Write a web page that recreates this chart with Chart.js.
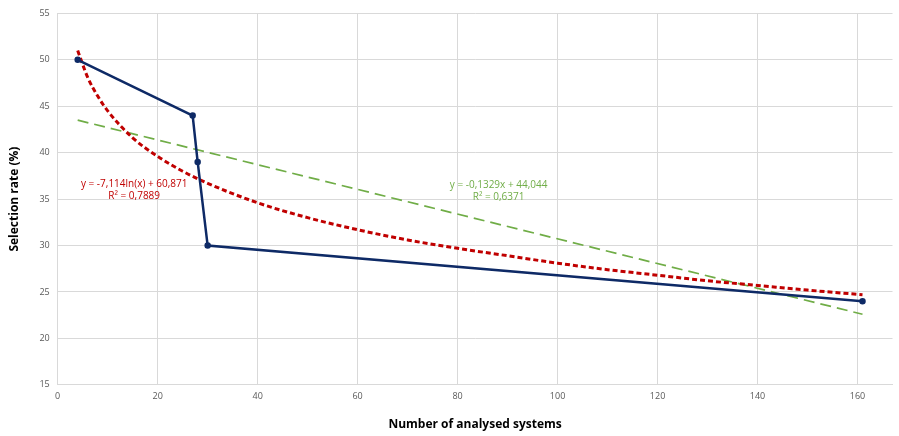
<!DOCTYPE html>
<html>
<head>
<meta charset="utf-8">
<script src="https://cdn.jsdelivr.net/npm/chart.js@4.4.1/dist/chart.umd.min.js"></script>
<style>
  html, body { margin:0; padding:0; background:#fff; }
  #wrap { width:899px; height:436px; }
</style>
</head>
<body>
<div id="wrap"><canvas id="c" width="899" height="436"></canvas></div>
<script>
  // --- Data ---
  const systemsX   = [4, 27, 28, 30, 161];
  const selRate    = [50, 44, 39, 30, 24];

  // log trendline, sampled from the plotted curve
  const logX   = [4, 6, 8, 10, 15, 20, 25, 30, 40, 50, 60, 70, 80, 90, 100, 110, 120, 130, 140, 150, 161];
  const logY   = [51.0, 48.1, 46.1, 44.5, 41.6, 39.6, 38.0, 36.7, 34.6, 33.0, 31.7, 30.6, 29.7, 28.9, 28.1, 27.4, 26.8, 26.2, 25.7, 25.2, 24.7];

  // linear trendline end points
  const linX   = [4, 161];
  const linY   = [43.5, 22.6];

  const logLabel = ['y = -7,114ln(x) + 60,871', 'R² = 0,7889'];
  const linLabel = ['y = -0,1329x + 44,044', 'R² = 0,6371'];

  const FONT = "'Open Sans', 'Liberation Sans', sans-serif";
  const pts = (xs, ys) => xs.map((x,i)=>({x, y: ys[i]}));

  // equation labels, anchored in data space
  const eqLabels = {
    id: 'eqLabels',
    afterDatasetsDraw(chart){
      const {ctx, scales:{x, y}} = chart;
      const draw = (lines, dx, dy, color) => {
        ctx.save();
        ctx.font = `10px ${FONT}`;
        ctx.fillStyle = color;
        ctx.textAlign = 'center';
        ctx.textBaseline = 'middle';
        const px = x.getPixelForValue(dx), py = y.getPixelForValue(dy);
        lines.forEach((t,i)=> ctx.fillText(t, px, py + i*12));
        ctx.restore();
      };
      draw(logLabel, 15.3, 36.6, '#C00000');
      draw(linLabel, 88.2, 36.5, '#70AD47');
    }
  };

  new Chart(document.getElementById('c'), {
    type: 'scatter',
    data: {
      datasets: [
        { data: pts(linX, linY), showLine: true, borderColor:'#70AD47', borderWidth:1.7,
          borderDash:[11,6], pointRadius:0, order:3 },
        { data: pts(logX, logY), showLine: true, borderColor:'#C00000', borderWidth:3,
          borderDash:[5,3], pointRadius:0, cubicInterpolationMode:'monotone', order:2 },
        { data: pts(systemsX, selRate), showLine: true, borderColor:'#0E2A66', backgroundColor:'#0E2A66',
          borderWidth:2.5, pointRadius:2, order:1 },
      ]
    },
    options: {
      responsive:false, animation:false,
      layout:{ padding:{ left:7, right:2, top:9, bottom:4 } },
      plugins:{ legend:{display:false}, tooltip:{enabled:false} },
      scales:{
        x:{
          type:'linear', min:0, max:167,
          afterBuildTicks(s){ s.ticks = s.ticks.filter(t => t.value % 20 === 0); },
          ticks:{ stepSize:20, color:'#595959', font:{family:FONT, size:9}, padding:6 },
          grid:{ color:'#D9D9D9', drawTicks:false },
          border:{ color:'#D9D9D9' },
          title:{ display:true, text:'Number of analysed systems', color:'#000',
                  font:{family:FONT, size:12, weight:'bold'}, padding:{top:10, bottom:0} }
        },
        y:{
          min:15, max:55,
          ticks:{ stepSize:5, color:'#595959', font:{family:FONT, size:9}, padding:8 },
          grid:{ color:'#D9D9D9', drawTicks:false },
          border:{ color:'#D9D9D9' },
          title:{ display:true, text:'Selection rate (%)', color:'#000',
                  font:{family:FONT, size:12, weight:'bold'}, padding:{top:0, bottom:10} }
        }
      }
    },
    plugins:[eqLabels]
  });
</script>
</body>
</html>
